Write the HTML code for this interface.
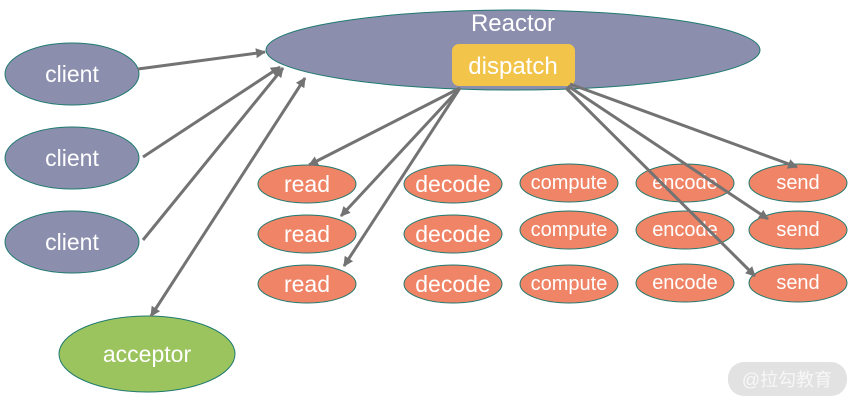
<!DOCTYPE html>
<html><head><meta charset="utf-8"><style>
html,body{margin:0;padding:0;background:#fff;}
svg{display:block;}
text{font-family:"Liberation Sans","Noto Sans CJK SC",sans-serif;fill:#fff;text-anchor:middle;}
</style></head><body>
<svg width="860" height="407" viewBox="0 0 860 407" xmlns="http://www.w3.org/2000/svg">
<defs>
<marker id="a" markerWidth="10" markerHeight="10" refX="9" refY="5" orient="auto" markerUnits="userSpaceOnUse" viewBox="0 0 10 10"><path d="M0,0 L10,5 L0,10 z" fill="#737373"/></marker>
<marker id="s" markerWidth="10" markerHeight="10" refX="1" refY="5" orient="auto" markerUnits="userSpaceOnUse" viewBox="0 0 10 10"><path d="M10,0 L0,5 L10,10 z" fill="#737373"/></marker>
</defs>
<g stroke="#1f7a70" stroke-width="1">
<ellipse cx="513" cy="50" rx="247" ry="40" fill="#8b8fad"/>
<ellipse cx="72" cy="74" rx="67" ry="31" fill="#8b8fad"/>
<ellipse cx="72" cy="158" rx="67" ry="31" fill="#8b8fad"/>
<ellipse cx="72" cy="242" rx="67" ry="31" fill="#8b8fad"/>
<ellipse cx="147" cy="354" rx="88" ry="38" fill="#9bc45f"/>
<g fill="#ef8466">
<ellipse cx="307" cy="184" rx="49" ry="19"/><ellipse cx="307" cy="234" rx="49" ry="19"/><ellipse cx="307" cy="284" rx="49" ry="19"/>
<ellipse cx="453" cy="184" rx="49" ry="19"/><ellipse cx="453" cy="234" rx="49" ry="19"/><ellipse cx="453" cy="284" rx="49" ry="19"/>
<ellipse cx="569" cy="183" rx="49" ry="19"/><ellipse cx="569" cy="230" rx="49" ry="19"/><ellipse cx="569" cy="284" rx="49" ry="19"/>
<ellipse cx="685" cy="183" rx="49" ry="19"/><ellipse cx="685" cy="230" rx="49" ry="19"/><ellipse cx="685" cy="283" rx="49" ry="19"/>
<ellipse cx="798" cy="183" rx="49" ry="19"/><ellipse cx="798" cy="230" rx="49" ry="19"/><ellipse cx="798" cy="283" rx="49" ry="19"/>
</g>
</g>
<rect x="452" y="44" width="123" height="42" rx="7" fill="#f2c44a"/>
<text x="513" y="31" font-size="24">Reactor</text>
<text x="513" y="74" font-size="24">dispatch</text>
<g font-size="23"><text x="72" y="82">client</text><text x="72" y="166">client</text><text x="72" y="250">client</text><text x="147" y="362">acceptor</text></g>
<g font-size="23">
<text x="307" y="192">read</text><text x="307" y="242">read</text><text x="307" y="292">read</text>
<text x="453" y="192">decode</text><text x="453" y="242">decode</text><text x="453" y="292">decode</text>
</g>
<g font-size="20">
<text x="569" y="189">compute</text><text x="569" y="236">compute</text><text x="569" y="290">compute</text>
<text x="685" y="189">encode</text><text x="685" y="236">encode</text><text x="685" y="289">encode</text>
<text x="798" y="189">send</text><text x="798" y="236">send</text><text x="798" y="289">send</text>
</g>
<g stroke="#737373" stroke-width="3" fill="none">
<line x1="138" y1="69" x2="265" y2="52" marker-end="url(#a)"/>
<line x1="143" y1="157" x2="280" y2="67" marker-end="url(#a)"/>
<line x1="143" y1="240" x2="283" y2="68" marker-end="url(#a)"/>
<line x1="151" y1="316" x2="305" y2="78" marker-end="url(#a)" marker-start="url(#s)"/>
<line x1="460" y1="88" x2="309" y2="165" marker-end="url(#a)"/>
<line x1="460" y1="88" x2="341" y2="216" marker-end="url(#a)"/>
<line x1="460" y1="88" x2="344" y2="266" marker-end="url(#a)"/>
<line x1="570" y1="84" x2="797" y2="167" marker-end="url(#a)"/>
<line x1="568" y1="86" x2="768" y2="219" marker-end="url(#a)"/>
<line x1="566" y1="88" x2="755" y2="276" marker-end="url(#a)"/>
</g>
<rect x="728" y="362" width="119" height="34" rx="16" fill="#e2e2e2"/>
<text x="787" y="386" font-size="18" style="fill:#f7f7f7">@拉勾教育</text>
</svg>
</body></html>
